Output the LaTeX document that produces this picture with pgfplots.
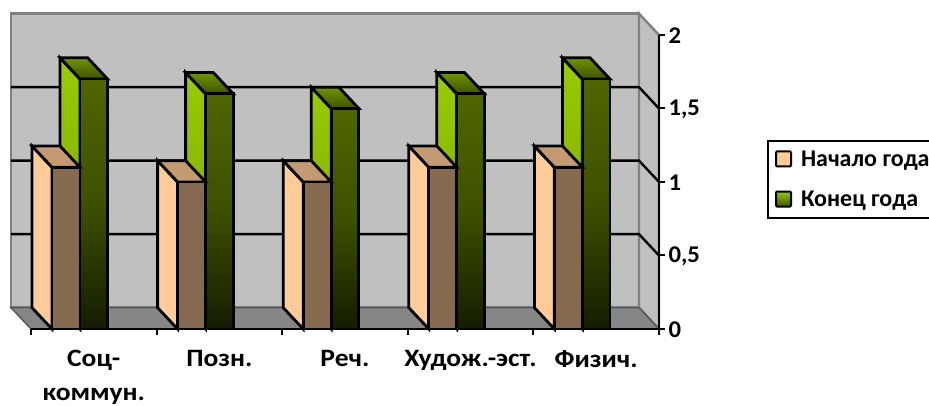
\documentclass[border=0pt]{standalone}
\usepackage{fontspec}
\setmainfont{Carlito}
\newfontfamily\xfont[FakeStretch=1.1]{Carlito}
\newfontfamily\yfont[FakeStretch=1.03]{Carlito}
\usepackage{pgfplots}
\pgfplotsset{compat=1.18}

\definecolor{wall}{HTML}{C0C0C0}
\definecolor{wallline}{HTML}{808080}
\definecolor{peach}{HTML}{FFCC99}
\definecolor{peachtop}{HTML}{C49A73}
\definecolor{brownfront}{HTML}{866A50}
\definecolor{HG1}{HTML}{99CC00}
\definecolor{HG2}{HTML}{749A00}
\definecolor{HG3}{HTML}{6F9400}
\definecolor{HG4}{HTML}{3F5200}
\definecolor{HG5}{HTML}{4F6600}
\definecolor{HG6}{HTML}{3D5000}
\definecolor{HG7}{HTML}{141C00}

\tikzset{
  box/.style={draw=black,line width=2.8pt},
  brown side/.style={box,fill=peach},
  brown top/.style={box,fill=peachtop},
  brown front/.style={box,fill=brownfront},
  green side/.style={box,top color=HG1,bottom color=HG2},
  green top/.style={box,top color=HG3,bottom color=HG4},
  green front/.style={box,top color=HG5,bottom color=HG7,middle color=HG6},
}

% depth of the 3d box in axis units
\def\depx{0.159}
\def\depy{0.145}

% left, right, value, series
\newcommand{\onebar}[4]{%
  \pgfmathsetmacro\xa{#1-\depx}%
  \pgfmathsetmacro\xb{#2-\depx}%
  \pgfmathsetmacro\yb{#3+\depy}%
  \addplot[forget plot,#4 side] coordinates {(\xa,\depy) (#1,0) (#1,#3) (\xa,\yb)} -- cycle;
  \addplot[forget plot,#4 top] coordinates {(\xa,\yb) (\xb,\yb) (#2,#3) (#1,#3)} -- cycle;
  \addplot[forget plot,#4 front] coordinates {(#1,0) (#2,0) (#2,#3) (#1,#3)} -- cycle;
}
% one group: position, start of year, end of year
\newcommand{\group}[3]{%
  \pgfmathsetmacro\gl{#1+0.39}%
  \pgfmathsetmacro\gr{#1+0.61}%
  \onebar{\gl}{\gr}{#3}{green}%
  \pgfmathsetmacro\gl{#1+0.167}%
  \pgfmathsetmacro\gr{#1+0.39}%
  \onebar{\gl}{\gr}{#2}{brown}%
}
% grid line on back wall and right wall
\newcommand{\wallgrid}[1]{%
  \pgfmathsetmacro\yg{#1+\depy}%
  \addplot[forget plot,black,line width=2.4pt] coordinates {(-0.159,\yg) (4.841,\yg) (5,#1)};
}

\begin{document}
\begin{tikzpicture}
\useasboundingbox (-31pt,-77pt) rectangle (898pt,329pt);
\begin{axis}[
    scale only axis,
    width=628pt, height=294pt,
    xmin=0, xmax=5, ymin=0, ymax=2,
    clip=false,
    axis on top,
    axis x line*=bottom,
    axis y line*=right,
    axis line style={black,line width=2.8pt,-},
    tick align=outside,
    xtick={0.5,1.5,2.5,3.5,4.5},
    xticklabels={{Соц-\\коммун.},Позн.,Реч.,Худож.-эст.,Физич.},
    minor xtick={0,1,2,3,4,5},
    major x tick style={draw=none},
    minor tick length=6pt,
    minor x tick style={black,line width=2pt},
    ytick={0,0.5,1,1.5,2},
    yticklabels={0,{0,5},1,{1,5},2},
    major tick length=6pt,
    y tick style={black,line width=2pt},
    xticklabel style={font=\fontsize{25}{34}\selectfont\xfont\bfseries,align=center,yshift=-12pt},
    yticklabel style={font=\fontsize{24}{28}\selectfont\yfont\bfseries,yshift=-1pt},
    /pgf/number format/assume math mode=true,
    legend style={
      at={(1.172,0.643)},anchor=north west,
      draw=black,line width=2pt,fill=white,
      font=\fontsize{24}{28}\selectfont\bfseries,
      row sep=19pt,inner xsep=7pt,inner ysep=8pt,
    },
    legend cell align=left,
    legend image code/.code={
      \path[draw=black,line width=2pt,rounded corners=1pt,#1] (0pt,-7pt) rectangle (15pt,8pt);
      \path (22pt,0pt);
    },
]
\addlegendimage{fill=peach}
\addlegendentry{Начало года}
\addlegendimage{top color=HG1,bottom color=HG4}
\addlegendentry{Конец года}

% walls and floor
\addplot[forget plot,fill=wall,draw=wallline,line width=2.4pt]
    coordinates {(-0.159,0.145) (4.841,0.145) (4.841,2.145) (-0.159,2.145)} -- cycle;
\addplot[forget plot,fill=wall,draw=wallline,line width=2.4pt]
    coordinates {(4.841,0.145) (5,0) (5,2) (4.841,2.145)} -- cycle;
\addplot[forget plot,top color=gray!95,bottom color=gray!105!black,draw=wallline!70!black,line width=1.5pt]
    coordinates {(-0.159,0.145) (4.841,0.145) (5,0) (0,0)} -- cycle;

\wallgrid{0.5}
\wallgrid{1}
\wallgrid{1.5}

% values: position, start of year, end of year
\group{0}{1.1}{1.7}
\group{1}{1.0}{1.6}
\group{2}{1.0}{1.5}
\group{3}{1.1}{1.6}
\group{4}{1.1}{1.7}
\end{axis}
\end{tikzpicture}
\end{document}
